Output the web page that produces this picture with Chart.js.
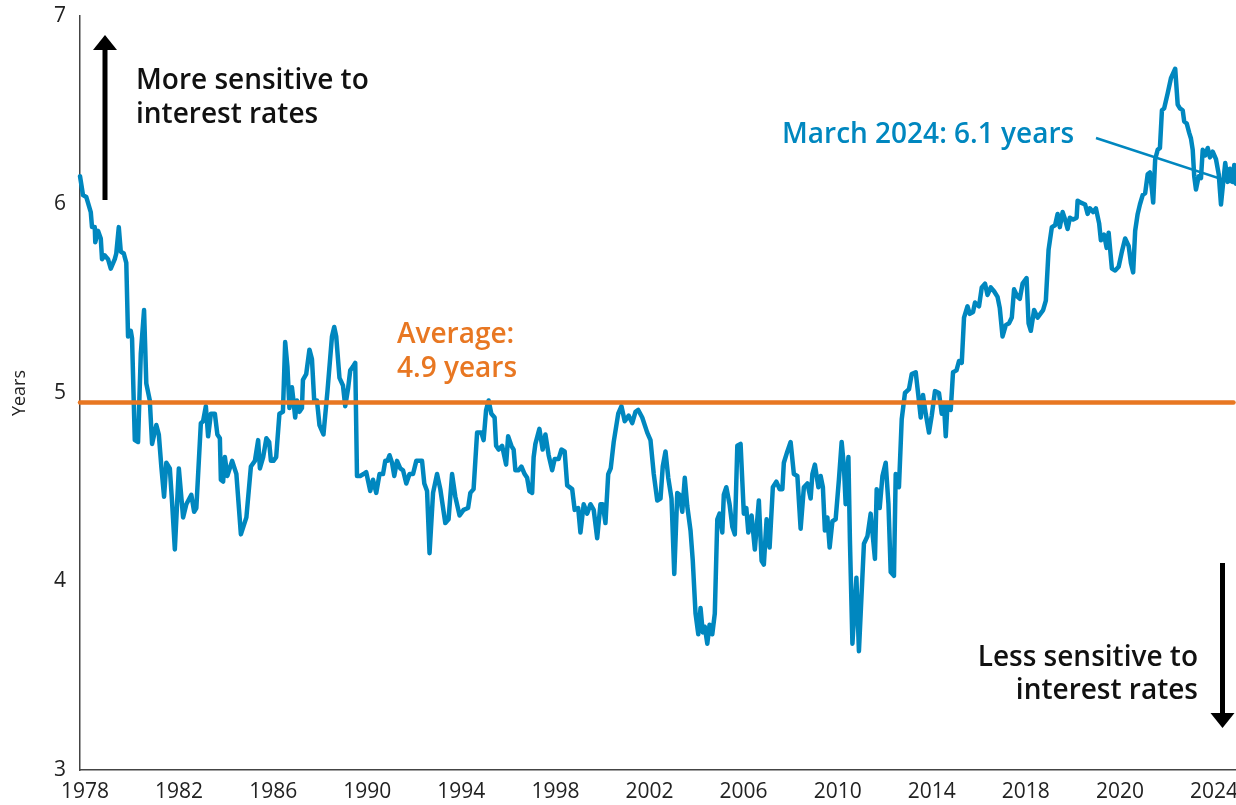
<!DOCTYPE html>
<html lang="en">
<head>
    <meta charset="UTF-8">
    <title>Portfolio duration</title>
    <style>
        body {
            margin: 0;
            background-color: #ffffff;
        }
        .chart-box {
            width: 1236px;
            height: 805px;
        }
    </style>
</head>
<body>
    <div class="chart-box">
        <canvas id="durationChart" width="1236" height="805"></canvas>
    </div>

    <script src="https://cdn.jsdelivr.net/npm/chart.js"></script>

    <script>
        // duration in years (fractional year -> years)
        const dates = [
            1978.00, 1978.12, 1978.25, 1978.43, 1978.48, 1978.59, 1978.61, 1978.72, 1978.83, 1978.88, 1978.99,
            1979.12, 1979.23, 1979.39, 1979.45, 1979.55, 1979.63, 1979.75, 1979.85, 1979.92,
            1980.03, 1980.08, 1980.19, 1980.32, 1980.43, 1980.56, 1980.65, 1980.79, 1980.88,
            1981.05, 1981.15, 1981.25, 1981.36, 1981.45, 1981.59, 1981.68, 1981.79, 1981.95,
            1982.12, 1982.25, 1982.45, 1982.56, 1982.65, 1982.83, 1982.92,
            1983.03, 1983.12, 1983.23, 1983.39, 1983.49, 1983.59, 1983.63, 1983.72, 1983.79, 1983.89,
            1984.08, 1984.25, 1984.43, 1984.65, 1984.83, 1984.99,
            1985.12, 1985.19, 1985.32, 1985.45, 1985.56, 1985.63, 1985.73, 1985.84, 1985.89, 1985.97,
            1986.11, 1986.20, 1986.29, 1986.37, 1986.47, 1986.53, 1986.60, 1986.67, 1986.77, 1986.87, 1986.91,
            1987.04, 1987.17, 1987.27, 1987.36, 1987.47, 1987.57, 1987.73, 1987.89,
            1988.07, 1988.16, 1988.24, 1988.37, 1988.51, 1988.60, 1988.71, 1988.80, 1988.91,
            1989.00, 1989.07, 1989.20, 1989.33, 1989.44, 1989.60, 1989.71, 1989.84, 1989.97,
            1990.11, 1990.20, 1990.29, 1990.37, 1990.47, 1990.56, 1990.67, 1990.80, 1990.91,
            1991.04, 1991.17, 1991.31, 1991.44, 1991.57, 1991.67, 1991.76, 1991.87, 1991.97,
            1992.11, 1992.27, 1992.40, 1992.60, 1992.73, 1992.87,
            1993.00, 1993.17, 1993.33, 1993.51, 1993.60, 1993.73, 1993.87,
            1994.04, 1994.13, 1994.23, 1994.33, 1994.44, 1994.57, 1994.63, 1994.73, 1994.87,
            1995.03, 1995.11, 1995.24, 1995.33, 1995.40, 1995.53, 1995.64, 1995.77, 1995.87, 1995.96,
            1996.07, 1996.13, 1996.20, 1996.36, 1996.49, 1996.60, 1996.73, 1996.87, 1996.97,
            1997.13, 1997.24, 1997.37, 1997.47, 1997.67, 1997.77, 1997.91,
            1998.00, 1998.13, 1998.27, 1998.40, 1998.53, 1998.67, 1998.80, 1998.89,
            1999.00, 1999.11, 1999.21, 1999.33, 1999.51, 1999.64, 1999.77, 1999.93,
            2000.07, 2000.20, 2000.31, 2000.47, 2000.67, 2000.80, 2000.93,
            2001.07, 2001.20, 2001.29, 2001.40, 2001.51, 2001.64, 2001.75, 2001.87, 2001.96,
            2002.07, 2002.17, 2002.27, 2002.40, 2002.49, 2002.60, 2002.71, 2002.80, 2002.89, 2002.97,
            2003.07, 2003.16, 2003.27, 2003.37, 2003.47, 2003.56, 2003.67, 2003.73, 2003.83, 2003.96,
            2004.07, 2004.17, 2004.27, 2004.40, 2004.53, 2004.63, 2004.71, 2004.84, 2004.97,
            2005.13, 2005.24, 2005.33, 2005.44, 2005.56, 2005.69, 2005.83, 2005.96,
            2006.07, 2006.13, 2006.27, 2006.40, 2006.53, 2006.67, 2006.80, 2006.93,
            2007.07, 2007.20, 2007.27, 2007.37, 2007.51, 2007.60, 2007.69, 2007.77, 2007.87, 2007.96,
            2008.07, 2008.20, 2008.33, 2008.44, 2008.53, 2008.60, 2008.71, 2008.77, 2008.87,
            2009.03, 2009.13, 2009.33, 2009.47, 2009.60, 2009.77, 2009.84, 2009.96,
            2010.07, 2010.20, 2010.31, 2010.40, 2010.53, 2010.60, 2010.73, 2010.84, 2010.97,
            2011.13, 2011.24, 2011.40, 2011.51, 2011.60, 2011.69, 2011.80, 2011.93,
            2012.04, 2012.17, 2012.33, 2012.44, 2012.53, 2012.60, 2012.67, 2012.80, 2012.89,
            2013.03, 2013.13, 2013.24, 2013.33, 2013.47, 2013.56, 2013.69, 2013.77, 2013.93,
            2014.04, 2014.17, 2014.27, 2014.40, 2014.53, 2014.67, 2014.76, 2014.87,
            2015.00, 2015.13, 2015.24, 2015.33, 2015.47, 2015.56, 2015.67, 2015.83, 2015.91,
            2016.00, 2016.13, 2016.27, 2016.49, 2016.60, 2016.71, 2016.84, 2016.97,
            2017.07, 2017.16, 2017.27, 2017.37, 2017.47, 2017.56, 2017.69, 2017.83, 2017.87,
            2018.00, 2018.17, 2018.27, 2018.36, 2018.49, 2018.60, 2018.73, 2018.80, 2018.93,
            2019.03, 2019.11, 2019.24, 2019.37, 2019.51, 2019.64, 2019.77, 2019.91,
            2020.00, 2020.09, 2020.17, 2020.27, 2020.36, 2020.47, 2020.57, 2020.67, 2020.76, 2020.84, 2020.89, 2020.97,
            2021.07, 2021.16, 2021.24, 2021.33, 2021.47, 2021.60, 2021.77, 2021.87, 2021.96,
            2022.07, 2022.13, 2022.23, 2022.33, 2022.40, 2022.47, 2022.53, 2022.60, 2022.71, 2022.80, 2022.87, 2022.97,
            2023.07, 2023.16, 2023.27, 2023.40, 2023.51, 2023.60, 2023.69, 2023.77, 2023.87, 2023.96,
            2024.07, 2024.13, 2024.20
        ];
        const duration = [
            6.15, 6.05, 6.04, 5.96, 5.88, 5.88, 5.80, 5.86, 5.82, 5.71, 5.73,
            5.71, 5.66, 5.71, 5.74, 5.88, 5.75, 5.74, 5.69, 5.30,
            5.33, 5.29, 4.75, 4.74, 5.21, 5.44, 5.05, 4.96, 4.73,
            4.83, 4.78, 4.61, 4.45, 4.63, 4.60, 4.42, 4.17, 4.60,
            4.34, 4.41, 4.46, 4.37, 4.39, 4.84, 4.85,
            4.93, 4.77, 4.89, 4.89, 4.78, 4.76, 4.54, 4.53, 4.66, 4.56,
            4.64, 4.57, 4.25, 4.34, 4.61, 4.64,
            4.75, 4.60, 4.66, 4.76, 4.74, 4.64, 4.64, 4.66, 4.75, 4.89,
            4.90, 5.27, 5.14, 4.92, 5.03, 4.96, 4.87, 4.96, 4.90, 4.92, 5.07,
            5.10, 5.23, 5.18, 4.96, 4.96, 4.83, 4.78, 5.01,
            5.30, 5.35, 5.30, 5.08, 5.04, 4.93, 5.02, 5.12, 5.14,
            5.16, 4.56, 4.56, 4.57, 4.58, 4.48, 4.54, 4.47, 4.57,
            4.57, 4.64, 4.64, 4.67, 4.63, 4.56, 4.64, 4.60, 4.59,
            4.52, 4.57, 4.57, 4.64, 4.64, 4.64, 4.52, 4.48, 4.15,
            4.47, 4.57, 4.49, 4.31, 4.33, 4.57,
            4.45, 4.35, 4.38, 4.39, 4.47, 4.49, 4.79,
            4.79, 4.75, 4.91, 4.96, 4.89, 4.87, 4.72, 4.70, 4.72,
            4.62, 4.77, 4.72, 4.70, 4.59, 4.59, 4.61, 4.57, 4.55, 4.48,
            4.47, 4.66, 4.73, 4.81, 4.70, 4.78, 4.67, 4.59, 4.65,
            4.65, 4.70, 4.69, 4.51, 4.49, 4.38, 4.39,
            4.26, 4.41, 4.36, 4.41, 4.38, 4.23, 4.41, 4.41,
            4.31, 4.57, 4.60, 4.74, 4.89, 4.93, 4.85, 4.88,
            4.84, 4.90, 4.91, 4.87, 4.79, 4.75, 4.57,
            4.43, 4.44, 4.61, 4.69, 4.55, 4.44, 4.04, 4.47, 4.46,
            4.37, 4.55, 4.40, 4.27, 4.11, 3.83, 3.72, 3.86, 3.73, 3.76,
            3.67, 3.77, 3.72, 3.83, 4.33, 4.36, 4.26, 4.46, 4.50, 4.41,
            4.29, 4.25, 4.72, 4.73, 4.36, 4.39, 4.26, 4.35, 4.17,
            4.43, 4.11, 4.09, 4.33, 4.18, 4.50, 4.53, 4.49,
            4.49, 4.63, 4.69, 4.74, 4.57, 4.56, 4.28, 4.50,
            4.52, 4.44, 4.57, 4.62, 4.50, 4.56, 4.50, 4.27, 4.34, 4.18,
            4.32, 4.33, 4.54, 4.74, 4.61, 4.41, 4.66, 4.22, 3.67,
            4.02, 3.63, 4.20, 4.24, 4.36, 4.12, 4.49, 4.39,
            4.56, 4.63, 4.41, 4.05, 4.03, 4.57, 4.50, 4.86, 5.00,
            5.02, 5.10, 5.11, 4.98, 4.87, 4.99, 4.89, 4.79,
            4.88, 5.01, 5.00, 4.89, 4.94, 4.77, 4.94, 4.91, 5.11,
            5.12, 5.17, 5.16, 5.40, 5.46, 5.42, 5.43, 5.48, 5.46,
            5.56, 5.58, 5.52, 5.56, 5.54, 5.51, 5.45, 5.30,
            5.36, 5.37, 5.40, 5.55, 5.51, 5.50, 5.58, 5.61, 5.37,
            5.33, 5.44, 5.40, 5.44, 5.49, 5.76, 5.88, 5.89,
            5.95, 5.88, 5.96, 5.92, 5.87, 5.93, 5.92, 5.93, 6.02,
            6.01, 6.00, 5.95, 5.98, 5.96, 5.98, 5.90, 5.81, 5.84,
            5.77, 5.85, 5.66, 5.65, 5.67, 5.75, 5.82, 5.78,
            5.69, 5.64, 5.86, 5.95, 6.00, 6.05, 6.06, 6.16, 6.17, 6.08, 6.01, 6.24,
            6.29, 6.30, 6.50, 6.51, 6.59, 6.67, 6.72, 6.53, 6.51,
            6.50, 6.44, 6.43, 6.38, 6.35, 6.29, 6.15, 6.08, 6.15, 6.14, 6.29, 6.26,
            6.30, 6.25, 6.28, 6.24, 6.16, 6.00, 6.12, 6.22, 6.12, 6.19,
            6.12, 6.21, 6.11
        ];
        const averageDuration = 4.95;
        const averageSpan = [1978, 2024.1];
        const xLabels = ['1978', '1982', '1986', '1990', '1994', '1998', '2002', '2006', '2010', '2014', '2018', '2020', '2024'];
        const yTicks = [3, 4, 5, 6, 7];

        const blue = '#0087bf';
        const orange = '#e87722';
        const fontFamily = '"Open Sans", "Noto Sans", sans-serif';

        const durationPoints = dates.map((d, i) => ({ x: d, y: duration[i] }));
        const averagePoints = averageSpan.map(d => ({ x: d, y: averageDuration }));

        // year labels in the source sit at even steps, not on their exact years
        const labelStart = 1978.2;
        const labelStep = 3.76;

        const notesPlugin = {
            id: 'notes',
            afterDraw(chart) {
                const ctx = chart.ctx;
                const xs = chart.scales.x;
                const ys = chart.scales.y;
                ctx.save();

                // up arrow
                ctx.fillStyle = '#000';
                ctx.fillRect(102.5, 48, 5, 152);
                ctx.beginPath();
                ctx.moveTo(105, 35);
                ctx.lineTo(117, 50);
                ctx.lineTo(93, 50);
                ctx.closePath();
                ctx.fill();

                // down arrow
                ctx.fillRect(1220, 563, 5, 152);
                ctx.beginPath();
                ctx.moveTo(1222.5, 728);
                ctx.lineTo(1234.5, 713);
                ctx.lineTo(1210.5, 713);
                ctx.closePath();
                ctx.fill();

                ctx.font = '600 28px ' + fontFamily;
                ctx.textBaseline = 'alphabetic';
                ctx.fillStyle = '#111';
                ctx.textAlign = 'left';
                ctx.fillText('More sensitive to', 136, 89);
                ctx.fillText('interest rates', 136, 123);

                ctx.textAlign = 'right';
                ctx.fillText('Less sensitive to', 1198, 666);
                ctx.fillText('interest rates', 1198, 699);

                ctx.textAlign = 'left';
                ctx.fillStyle = orange;
                ctx.fillText('Average:', 397, 343);
                ctx.fillText('4.9 years', 397, 377);

                ctx.fillStyle = blue;
                ctx.fillText('March 2024: 6.1 years', 782, 143);

                // leader line to the latest value
                const last = dates.length - 1;
                ctx.strokeStyle = blue;
                ctx.lineWidth = 2.5;
                ctx.beginPath();
                ctx.moveTo(1096, 138);
                ctx.lineTo(xs.getPixelForValue(dates[last]), ys.getPixelForValue(duration[last]));
                ctx.stroke();

                ctx.restore();
            }
        };

        new Chart(document.getElementById('durationChart'), {
            type: 'line',
            data: {
                datasets: [
                    {
                        label: 'Average',
                        data: averagePoints,
                        borderColor: orange,
                        borderWidth: 4.5,
                        pointRadius: 0,
                        borderCapStyle: 'round'
                    },
                    {
                        label: 'Duration',
                        data: durationPoints,
                        borderColor: blue,
                        borderWidth: 4.5,
                        pointRadius: 0,
                        tension: 0,
                        borderJoinStyle: 'round',
                        borderCapStyle: 'round'
                    }
                ]
            },
            options: {
                responsive: false,
                animation: false,
                clip: false,
                layout: { padding: { top: 16, right: 0, left: 0, bottom: 0 } },
                plugins: {
                    legend: { display: false },
                    tooltip: { enabled: false }
                },
                scales: {
                    x: {
                        type: 'linear',
                        min: 1978,
                        max: dates[dates.length - 1],
                        grid: { display: false, drawTicks: false },
                        border: { display: true, color: '#444', width: 1.5 },
                        afterBuildTicks(scale) {
                            scale.ticks = xLabels.map((l, i) => ({ value: labelStart + i * labelStep }));
                        },
                        afterFit(scale) {
                            scale.height = 35;
                            scale.paddingLeft = 0;
                            scale.paddingRight = 0;
                        },
                        ticks: {
                            autoSkip: false,
                            maxRotation: 0,
                            padding: 9,
                            color: '#222',
                            font: { family: fontFamily, size: 21 },
                            callback: (v, i) => xLabels[i]
                        }
                    },
                    y: {
                        min: 3,
                        max: 7,
                        grid: { display: false, drawTicks: false },
                        border: { display: true, color: '#444', width: 1.5 },
                        afterBuildTicks(scale) {
                            scale.ticks = yTicks.map(v => ({ value: v }));
                        },
                        afterFit(scale) {
                            scale.width = 80;
                            scale.paddingTop = 0;
                            scale.paddingBottom = 0;
                        },
                        title: {
                            display: true,
                            text: 'Years',
                            color: '#222',
                            font: { family: fontFamily, size: 18 },
                            padding: { top: 9, bottom: 0 }
                        },
                        ticks: {
                            padding: 14,
                            color: '#222',
                            font: { family: fontFamily, size: 21 }
                        }
                    }
                }
            },
            plugins: [notesPlugin]
        });
    </script>
</body>
</html>
